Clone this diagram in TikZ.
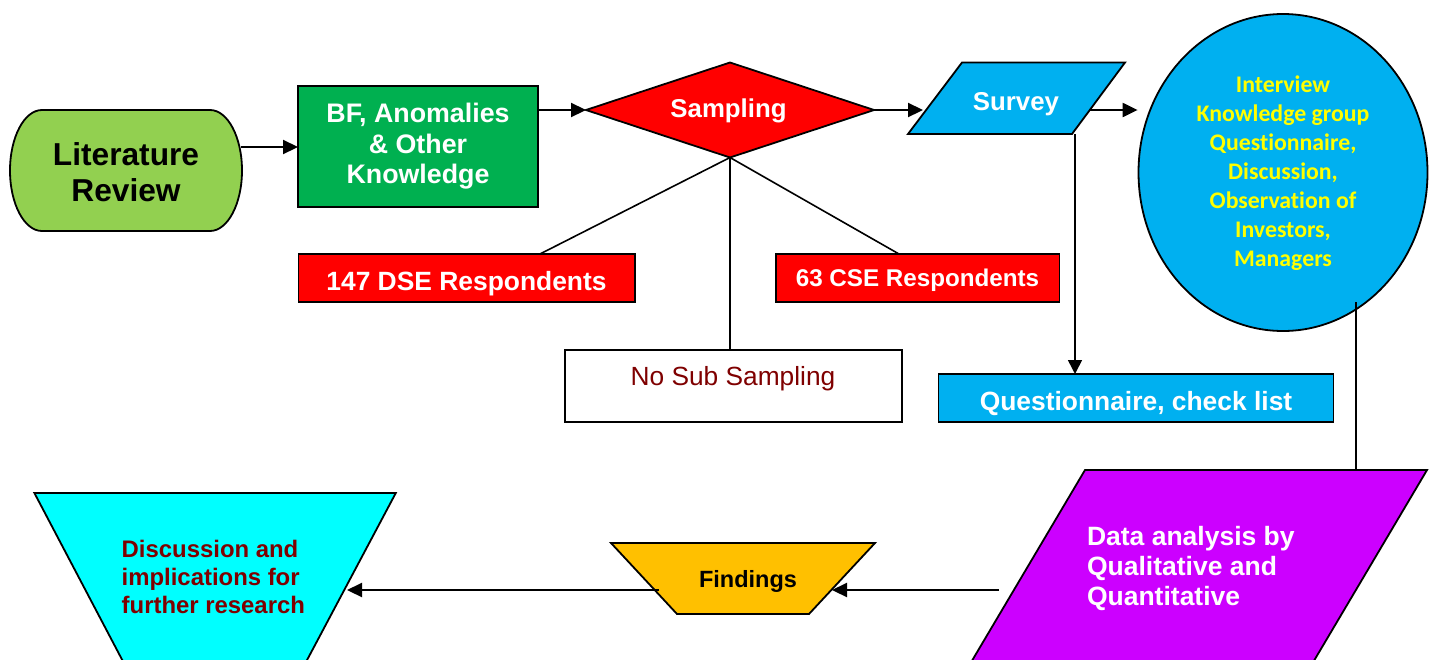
\documentclass[tikz,border=0pt]{standalone}
\usepackage{fontspec}
\setmainfont{Liberation Sans}
\newfontfamily\calfont[Ligatures=NoCommon]{Carlito}
\usetikzlibrary{arrows.meta,shapes.geometric}
\definecolor{litgreen}{HTML}{92D050}
\definecolor{bfgreen}{HTML}{00B050}
\definecolor{skyblue}{HTML}{00B0F0}
\definecolor{txtyellow}{HTML}{FFFF00}
\definecolor{purplebox}{HTML}{CC00FF}
\definecolor{findorange}{HTML}{FFC000}
\definecolor{cyanbox}{HTML}{00FFFF}
\definecolor{maroon}{HTML}{7F0000}
\definecolor{redbox}{HTML}{FF0000}
\begin{document}
\begin{tikzpicture}[x=1pt,y=-1pt,
  shp/.style={draw=black,line width=1.8pt},
  txt/.style={inner sep=0pt,outer sep=0pt},
  boxnode/.style={shp,rectangle,inner sep=0pt,outer sep=0pt},
  arrowline/.style={line width=2.2pt,-{Triangle[length=15pt,width=14pt]}},
  thinarrow/.style={line width=1.6pt,-{Triangle[length=14pt,width=14pt]}},
  thinline/.style={line width=1.6pt},
  bigbold/.style={font=\fontsize{26.8}{30.7}\selectfont\bfseries}
]
\useasboundingbox (0,0) rectangle (1435,659);
\clip (0,0) rectangle (1435,659);

% Literature Review
\path[shp,fill=litgreen] (42,110) -- (210,110)
  arc[start angle=-90,end angle=90,x radius=32,y radius=60.5]
  -- (42,231)
  arc[start angle=90,end angle=270,x radius=32,y radius=60.5] -- cycle;
\node[txt,font=\fontsize{31.7}{36}\selectfont\bfseries,align=center,anchor=north] (lit) at (126,143) {Literature\\Review};
\coordinate (litE) at (241,147);

% BF box
\node[boxnode,fill=bfgreen,minimum width=240pt,minimum height=121pt] (bf) at (418,146.5) {};
\node[txt,bigbold,text=white,align=center,anchor=north] (bft) at (418,103) {BF, Anomalies\\\& Other\\Knowledge};
\draw[arrowline] (litE) -- (litE -| bf.west);

% Sampling diamond
\coordinate (sampW) at (586,110);
\coordinate (sampE) at (874,110);
\coordinate (sampN) at (730,62.5);
\coordinate (sampS) at (730,157.5);
\path[shp,fill=redbox] (sampW) -- (sampN) -- (sampE) -- (sampS) -- cycle;
\node[txt,font=\fontsize{25.8}{30}\selectfont\bfseries,text=white,anchor=base] (samp) at (728.5,117) {Sampling};
\draw[arrowline] (bf.east |- sampW) -- (sampW);

% Survey parallelogram
\path[shp,fill=skyblue] (908,134) -- (962,62.5) -- (1125,62.5) -- (1072,134) -- cycle;
\node[txt,font=\fontsize{25.8}{30}\selectfont\bfseries,text=white,anchor=base] (survey) at (1016,110) {Survey};
\coordinate (survW) at (923,110);
\coordinate (survE) at (1090,110);
\coordinate (survB) at (1075,134);
\draw[arrowline] (sampE) -- (survW);

% Interview ellipse
\node[shp,ellipse,fill=skyblue,minimum width=289pt,minimum height=317pt,inner sep=0pt] (interv) at (1283,172.5) {};
\node[txt,font=\calfont\fontsize{23.8}{29}\selectfont\bfseries,text=txtyellow,align=center,anchor=north] (intervt) at (1283,75.5)
  {Interview\\Knowledge group\\Questionnaire,\\Discussion,\\Observation of\\Investors,\\Managers};
\draw[arrowline] (survE) -- (survE -| interv.west);

% Sampling outputs
\node[boxnode,fill=redbox,minimum width=336.5pt,minimum height=48pt] (dse) at (466.75,278) {};
\node[txt,font=\fontsize{26.4}{30}\selectfont\bfseries,text=white,anchor=base] (dset) at (466.5,290) {147 DSE Respondents};
\node[boxnode,fill=redbox,minimum width=283.4pt,minimum height=48pt] (cse) at (917.7,278) {};
\node[txt,font=\fontsize{24.2}{28}\selectfont\bfseries,text=white,anchor=base] (cset) at (917.5,286.7) {63 CSE Respondents};
\node[boxnode,fill=white,minimum width=337pt,minimum height=72pt] (nosub) at (733.5,386) {};
\node[txt,font=\fontsize{26.3}{30}\selectfont,text=maroon,anchor=base] (nosubt) at (733,385.7) {No Sub Sampling};
\coordinate (dseT) at (540,254);
\coordinate (cseT) at (899,254);
\draw[thinline] (sampS) -- (dseT);
\draw[thinline] (sampS) -- (cseT);
\draw[thinline] (sampS) -- (sampS |- nosub.north);

% Questionnaire box
\node[boxnode,fill=skyblue,minimum width=395pt,minimum height=48pt] (quest) at (1136,398) {};
\node[txt,font=\fontsize{26.4}{30}\selectfont\bfseries,text=white,anchor=base] (questt) at (1136,410) {Questionnaire, check list};
\draw[thinarrow] (survB) -- (survB |- quest.north);

% Data analysis parallelogram
\path[shp,fill=purplebox] (1085,470) -- (1427,470) -- (1290.7,700) -- (948.7,700) -- cycle;
\node[txt,font=\fontsize{26.5}{30}\selectfont\bfseries,text=white,align=left,anchor=north west] (data) at (1087,526)
  {Data analysis by\\Qualitative and\\Quantitative};
\coordinate (elB) at (1356,302);
\coordinate (dataT) at (1356,470);
\draw[thinline] (elB) -- (dataT);

% Findings
\path[shp,fill=findorange] (611,543) -- (875,543) -- (809,614) -- (677,614) -- cycle;
\node[txt,font=\fontsize{23.5}{28}\selectfont\bfseries,anchor=base] (find) at (748,587) {Findings};
\coordinate (dataL) at (999,590);
\coordinate (findR) at (832,590);
\draw[arrowline] (dataL) -- (findR);

% Discussion
\path[shp,fill=cyanbox] (34.4,493) -- (395.8,493) -- (285.8,700) -- (143.3,700) -- cycle;
\node[txt,font=\fontsize{23.9}{28}\selectfont\bfseries,text=maroon,align=left,anchor=north west] (disc) at (121.7,540)
  {Discussion and\\implications for\\further research};
\coordinate (findL) at (659,590);
\coordinate (discR) at (347,590);
\draw[arrowline] (findL) -- (discR);
\end{tikzpicture}
\end{document}
